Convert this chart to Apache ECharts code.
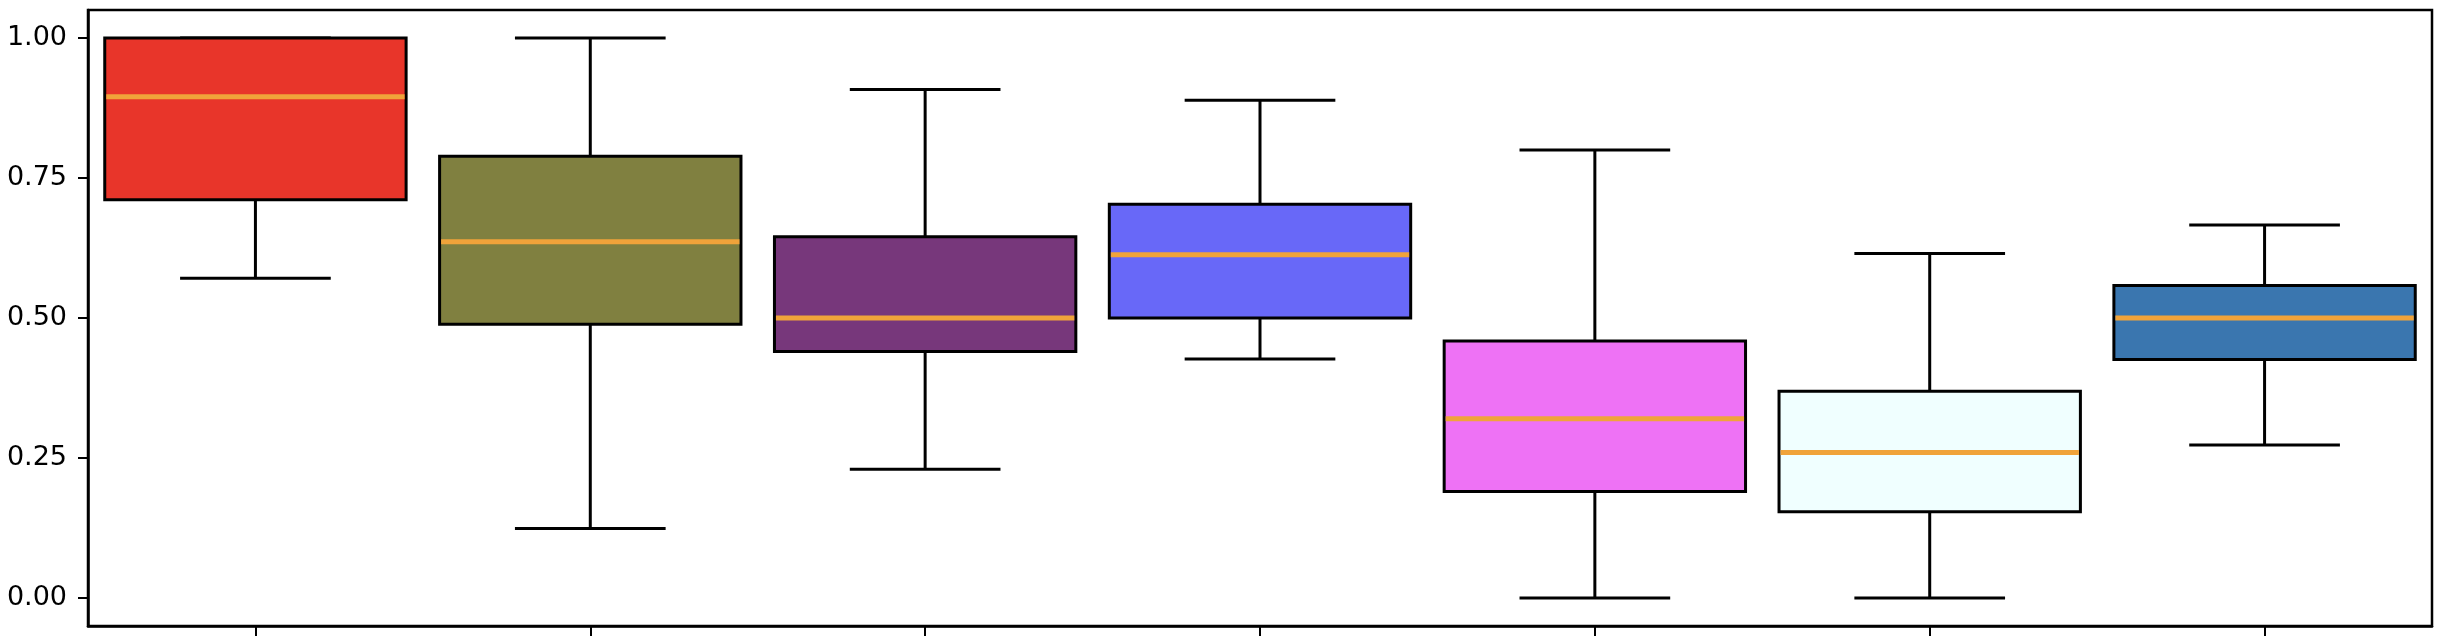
<!DOCTYPE html>
<html>
<head>
<meta charset="utf-8">
<script src="https://cdn.jsdelivr.net/npm/echarts@6/dist/echarts.min.js"></script>
<style>
html,body{margin:0;padding:0;background:#fff;}
#chart{width:2444px;height:642px;}
</style>
</head>
<body>
<div id="chart"></div>
<script>
// Data
const categories = ['Group 1','Group 2','Group 3','Group 4','Group 5','Group 6','Group 7'];
const whiskerLow = [0.571, 0.124, 0.230, 0.427, 0.000, 0.000, 0.273];
const q1Values   = [0.711, 0.489, 0.440, 0.500, 0.190, 0.154, 0.426];
const medians    = [0.895, 0.636, 0.500, 0.613, 0.320, 0.260, 0.500];
const q3Values   = [1.000, 0.789, 0.645, 0.703, 0.459, 0.369, 0.558];
const whiskerHigh= [1.000, 1.000, 0.908, 0.889, 0.800, 0.615, 0.666];
const yTicks = [0, 0.25, 0.5, 0.75, 1.0];
const boxColors = ['#E8352A','#808040','#77377B','#6868F8','#EE72F5','#F0FFFF','#3A76AF'];
const medianColor = '#F0A33A';

const seriesData = categories.map((c, i) => [i, whiskerLow[i], q1Values[i], medians[i], q3Values[i], whiskerHigh[i]]);

const chart = echarts.init(document.getElementById('chart'), null, {renderer: 'canvas'});
const font = 'DejaVu Sans';

chart.setOption({
  animation: false,
  backgroundColor: '#fff',
  grid: {left: 88, right: 12, top: 10, bottom: 16, show: true, borderColor: '#000', borderWidth: 2.5, backgroundColor: 'transparent'},
  xAxis: {
    type: 'category',
    data: categories,
    boundaryGap: true,
    axisLine: {show: true, onZero: false, lineStyle: {color: '#000', width: 2.5}},
    axisTick: {show: true, alignWithLabel: true, length: 10, lineStyle: {color: '#000', width: 2}},
    axisLabel: {show: false},
    splitLine: {show: false}
  },
  yAxis: {
    type: 'value',
    min: -0.05,
    max: 1.05,
    axisLine: {show: true, onZero: false, lineStyle: {color: '#000', width: 2.5}},
    axisTick: {show: true, length: 10, lineStyle: {color: '#000', width: 2}, customValues: yTicks},
    axisLabel: {show: true, customValues: yTicks, formatter: v => v.toFixed(2), fontFamily: font, fontSize: 27, color: '#000', margin: 21},
    splitLine: {show: false}
  },
  series: [{
    type: 'custom',
    data: seriesData,
    encode: {x: 0, y: [1, 2, 3, 4, 5]},
    renderItem: function (params, api) {
      const idx = api.value(0);
      const band = api.size([1, 0])[0];
      const boxW = band * 0.9;
      const capW = boxW / 2;
      const cx = api.coord([idx, 0])[0];
      const yLow = api.coord([idx, api.value(1)])[1];
      const yQ1 = api.coord([idx, api.value(2)])[1];
      const yMed = api.coord([idx, api.value(3)])[1];
      const yQ3 = api.coord([idx, api.value(4)])[1];
      const yHigh = api.coord([idx, api.value(5)])[1];
      const lw = 3;
      const ls = {stroke: '#000', lineWidth: lw};
      return {
        type: 'group',
        children: [
          {type: 'line', shape: {x1: cx, y1: yQ1, x2: cx, y2: yLow}, style: ls},
          {type: 'line', shape: {x1: cx, y1: yQ3, x2: cx, y2: yHigh}, style: ls},
          {type: 'line', shape: {x1: cx - capW / 2, y1: yLow, x2: cx + capW / 2, y2: yLow}, style: ls},
          {type: 'line', shape: {x1: cx - capW / 2, y1: yHigh, x2: cx + capW / 2, y2: yHigh}, style: ls},
          {type: 'rect', shape: {x: cx - boxW / 2, y: yQ3, width: boxW, height: yQ1 - yQ3},
            style: {fill: boxColors[idx], stroke: '#000', lineWidth: lw}},
          {type: 'line', shape: {x1: cx - boxW / 2 + 1.5, y1: yMed, x2: cx + boxW / 2 - 1.5, y2: yMed},
            style: {stroke: medianColor, lineWidth: 5}}
        ]
      };
    }
  }]
});
</script>
</body>
</html>
